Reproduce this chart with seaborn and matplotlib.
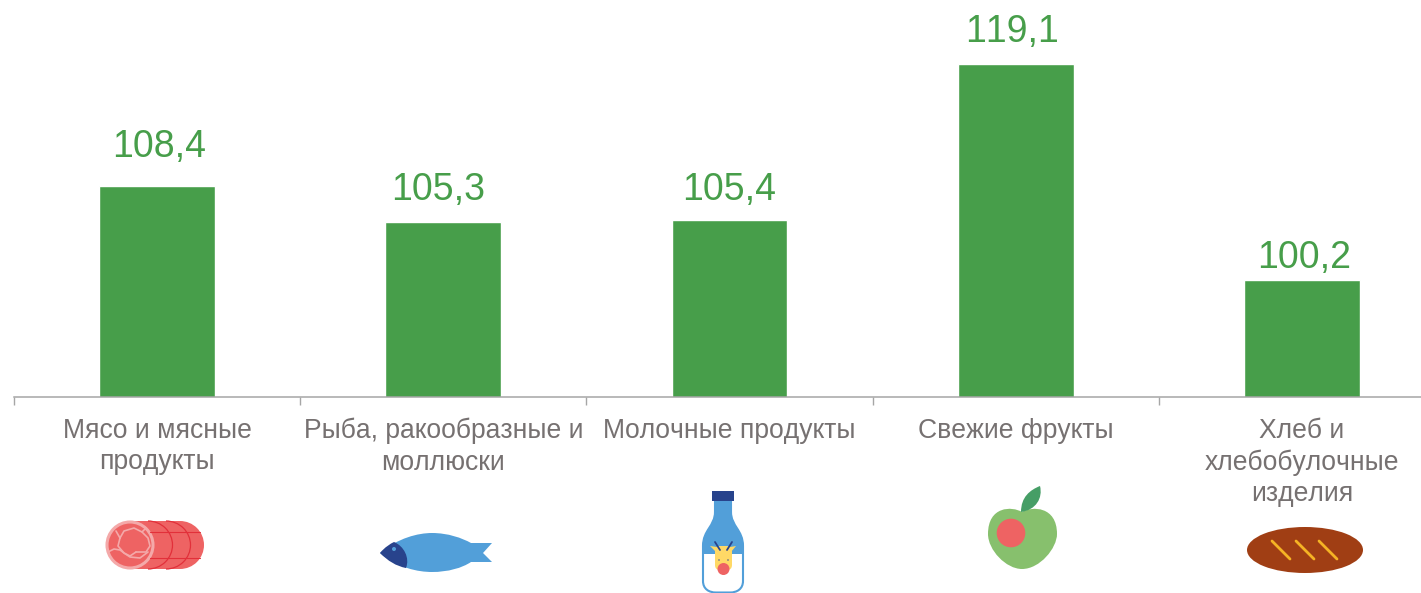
import matplotlib
matplotlib.use("Agg")
import matplotlib.pyplot as plt
import numpy as np
import pandas as pd
import seaborn as sns
from matplotlib.patches import Arc, Circle, Ellipse, FancyBboxPatch, PathPatch, Polygon, Rectangle
from matplotlib.path import Path

# Data
categories = [
    "Мясо и мясные\nпродукты",
    "Рыба, ракообразные и\nмоллюски",
    "Молочные продукты",
    "Свежие фрукты",
    "Хлеб и\nхлебобулочные\nизделия",
]
values = [108.4, 105.3, 105.4, 119.1, 100.2]
value_labels = ["108,4", "105,3", "105,4", "119,1", "100,2"]

# Label nudges in pixels, the labels do not sit evenly above the bars
label_dx = [2, -5, 0, -4, 2]
label_dy = [29, 22, 20, 22, 12]

GREEN = "#479E4A"
GREY = "#767171"
AXIS = "#A6A6A6"
W, H = 1421, 593

sns.set_theme(style="white")
plt.rcParams["font.family"] = ["Liberation Sans", "DejaVu Sans"]
plt.rcParams["text.kerning_factor"] = 6   # keeps "11" from collapsing

fig = plt.figure(figsize=(W / 100, H / 100), dpi=100)

# Axis runs past the right edge of the picture (cropped in the original)
ax = fig.add_axes([14 / W, (H - 396.5) / H, 1431 / W, 396.5 / H])
ax.patch.set_alpha(0)

df = pd.DataFrame({"category": categories, "value": values})
sns.barplot(data=df, x="category", y="value", color=GREEN, saturation=1, width=0.405, ax=ax)

ax.set_xlim(-0.5, 4.5)
ax.set_ylim(90, 90 + 396.5 / 11.43)
ax.set_xlabel("")
ax.set_ylabel("")
ax.set_yticks([])
for side in ["top", "left", "right"]:
    ax.spines[side].set_visible(False)
ax.spines["bottom"].set_color(AXIS)
ax.spines["bottom"].set_linewidth(1.1)

ax.set_xticks(np.arange(-0.5, 5.0, 1.0), minor=True)
ax.tick_params(axis="x", which="minor", bottom=True, length=6, width=1, color=AXIS)
ax.tick_params(axis="x", which="major", bottom=False, length=0, pad=15.5, labelsize=19.1,
               labelcolor=GREY)
for tick in ax.get_xticklabels():
    tick.set_linespacing(1.27)

for i, (v, txt) in enumerate(zip(values, value_labels)):
    ax.annotate(txt, xy=(i, v), xytext=(label_dx[i] * 0.72, label_dy[i] * 0.72),
                textcoords="offset points", ha="center", va="baseline",
                fontsize=27.0, color=GREEN)

# Overlay in image pixels for the little food icons
ic = fig.add_axes([0, 0, 1, 1])
ic.set_xlim(0, W)
ic.set_ylim(H, 0)
ic.axis("off")
ic.patch.set_alpha(0)

RED = "#EE6363"
PINK = "#F4A9A9"
DARKRED = "#E2303A"
BLUE = "#529FD9"
NAVY = "#28438C"
YELLOW = "#FFD966"
M, L, C = Path.MOVETO, Path.LINETO, Path.CURVE4

# meat
ic.add_patch(Rectangle((130, 521), 50, 48, fc=RED, ec="none"))
ic.add_patch(Circle((180, 545), 24, fc=RED, ec="none"))
for cx in [148, 166]:
    ic.add_patch(Arc((cx, 545), 49, 48, theta1=-90, theta2=90, ec=DARKRED, lw=0.9))
ic.plot([150, 200], [532, 532], color=DARKRED, lw=0.8)
ic.plot([150, 200], [558, 558], color=DARKRED, lw=0.8)
ic.add_patch(Circle((130, 545), 23, fc=RED, ec=PINK, lw=2.2))
marble = [
    ([120, 124, 134, 142, 146], [538, 531, 528, 532, 528]),
    ([120, 118, 124, 130, 136], [538, 546, 553, 556, 552]),
    ([142, 148, 150, 146, 136], [532, 538, 546, 552, 552]),
    ([108, 114, 120, 124, 130, 140, 148], [552, 549, 550, 553, 557, 558, 552]),
    ([120, 116], [538, 531]),
]
for xs, ys in marble:
    ic.plot(xs, ys, color=PINK, lw=1.2, solid_capstyle="round")

# fish
body = Path(
    [(380, 553), (398, 538), (418, 533), (432, 533), (448, 533), (462, 538), (471, 543),
     (492, 543), (483, 553), (492, 562), (471, 562), (462, 568), (448, 572), (432, 572),
     (418, 572), (398, 568), (380, 553)],
    [M, C, C, C, C, C, C, L, L, L, L, C, C, C, C, C, C],
)
ic.add_patch(PathPatch(body, fc=BLUE, ec="none"))
head = Path(
    [(380, 553), (385, 547), (390, 544), (394, 542), (404, 546), (410, 558), (406, 568),
     (396, 566), (388, 561), (380, 553)],
    [M, C, C, C, C, C, C, C, C, C],
)
ic.add_patch(PathPatch(head, fc=NAVY, ec="none"))
ic.add_patch(Circle((394, 549), 2, fc=BLUE, ec="none"))

# milk bottle
bottle = Path(
    [(715, 500), (731, 500), (731, 512), (731, 526), (743, 530), (743, 546), (743, 581),
     (743, 589), (737, 592.5), (730, 592.5), (716, 592.5), (709, 592.5), (703, 589), (703, 581),
     (703, 546), (703, 530), (715, 526), (715, 512), (715, 500)],
    [M, L, L, C, C, C, L, C, C, C, L, C, C, C, L, C, C, C, L],
)
ic.add_patch(PathPatch(bottle, fc="white", ec=BLUE, lw=1.5))
fill = PathPatch(bottle, fc=BLUE, ec="none")
ic.add_patch(fill)
fill.set_clip_path(Rectangle((700, 498), 50, 56, transform=ic.transData))
ic.add_patch(Rectangle((712, 491), 22, 10, fc=NAVY, ec="none"))
# cow
ic.plot([720, 715], [550, 542], color=NAVY, lw=1.3)
ic.plot([727, 732], [550, 542], color=NAVY, lw=1.3)
ic.add_patch(Polygon([(710, 546), (717, 547), (721, 553), (716, 552)], fc=YELLOW, ec="none"))
ic.add_patch(Polygon([(736, 546), (730, 547), (726, 553), (731, 552)], fc=YELLOW, ec="none"))
ic.add_patch(FancyBboxPatch((715, 546), 17, 24, boxstyle="round,pad=0,rounding_size=5", fc=YELLOW, ec="none"))
ic.add_patch(Circle((723.5, 569), 6, fc=RED, ec="none"))
ic.add_patch(Circle((719, 560), 0.7, fc=NAVY, ec="none"))
ic.add_patch(Circle((728, 560), 0.7, fc=NAVY, ec="none"))

# apple
apple = Path(
    [(1022, 512), (1032, 506), (1057, 506), (1057, 534), (1057, 548), (1040, 569), (1022, 569),
     (1006, 569), (988, 550), (988, 534), (988, 506), (1012, 506), (1022, 512)],
    [M, C, C, C, C, C, C, C, C, C, C, C, C],
)
ic.add_patch(PathPatch(apple, fc="#87C06D", ec="none"))
leaf = Path(
    [(1021, 512), (1021, 497), (1030, 490), (1040, 486), (1043, 498), (1036, 510), (1021, 512)],
    [M, C, C, C, C, C, C],
)
ic.add_patch(PathPatch(leaf, fc="#469E66", ec="none"))
ic.add_patch(Circle((1011, 533), 14.3, fc=RED, ec="none"))

# bread
ic.add_patch(Ellipse((1305, 550), 116, 46, fc="#A03E14", ec="none"))
for x0 in [1272, 1296, 1319]:
    ic.plot([x0, x0 + 18], [541, 559], color="#F5B324", lw=2, solid_capstyle="round")

fig.savefig("out.png", dpi=100)
plt.close(fig)
